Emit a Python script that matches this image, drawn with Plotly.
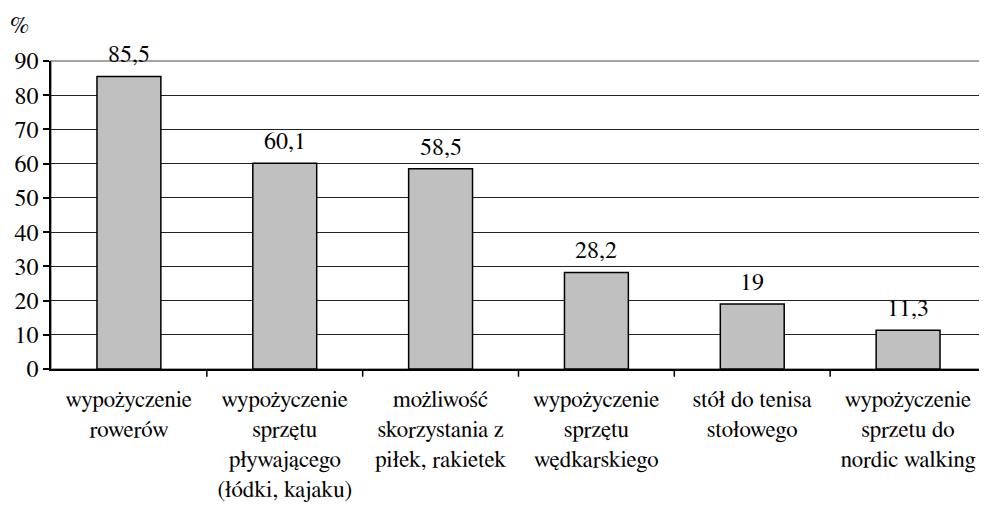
import plotly.graph_objects as go

categories = [
    "wypożyczenie<br>rowerów",
    "wypożyczenie<br>sprzętu<br>pływającego<br>(łódki, kajaku)",
    "możliwość<br>skorzystania z<br>piłek, rakietek",
    "wypożyczenie<br>sprzętu<br>wędkarskiego",
    "stół do tenisa<br>stołowego",
    "wypożyczenie<br>sprzetu do<br>nordic walking",
]
values = [85.5, 60.1, 58.5, 28.2, 19, 11.3]
value_labels = ["85,5", "60,1", "58,5", "28,2", "19", "11,3"]
y_ticks = [0, 10, 20, 30, 40, 50, 60, 70, 80, 90]

family = "Nimbus Roman, FreeSerif, Noto Serif, serif"
font = dict(family=family, size=24, color="black")
xfont = dict(family=family, size=23, color="black")

fig = go.Figure()
fig.add_trace(go.Bar(
    x=list(range(len(categories))),
    y=values,
    marker=dict(color="#c0c0c0", line=dict(color="black", width=1.5)),
    width=0.41,
    hoverinfo="skip",
))

for i, (v, t) in enumerate(zip(values, value_labels)):
    fig.add_annotation(x=i, y=v, text=t, showarrow=False, yanchor="bottom",
                       yshift=7, font=font)

fig.add_annotation(x=0, y=1, xref="paper", yref="paper", xshift=-43, yshift=21,
                   text="%", showarrow=False, xanchor="left", yanchor="bottom", font=font)

fig.add_shape(type="rect", xref="paper", yref="paper", x0=0, y0=0, x1=1, y1=1,
              line=dict(color="#888888", width=1.5), layer="below")

fig.update_layout(
    width=979, height=498,
    margin=dict(l=43, r=1, t=53, b=137, autoexpand=False),
    paper_bgcolor="white", plot_bgcolor="white",
    font=font,
    showlegend=False,
    xaxis=dict(
        tickmode="array", tickvals=list(range(len(categories))), ticktext=categories,
        range=[-0.5, 5.5],
        showgrid=False, zeroline=False,
        showline=True, linecolor="black", linewidth=1.5,
        ticks="", tickfont=xfont,
        ticklabelstandoff=9, automargin=False,
    ),
    yaxis=dict(
        range=[0, 90], tickvals=y_ticks,
        showgrid=True, gridcolor="#222222", gridwidth=1,
        zeroline=False,
        showline=True, linecolor="black", linewidth=1.5,
        ticks="outside", ticklen=6, tickcolor="black", tickwidth=1.5,
        tickfont=font, automargin=False,
    ),
)

for b in [0.5, 1.5, 2.5, 3.5, 4.5, 5.5]:
    fig.add_shape(type="line", xref="x", yref="paper", x0=b, x1=b, y0=0, y1=-0.025,
                  line=dict(color="black", width=1.5))

fig.write_html("out.html")
